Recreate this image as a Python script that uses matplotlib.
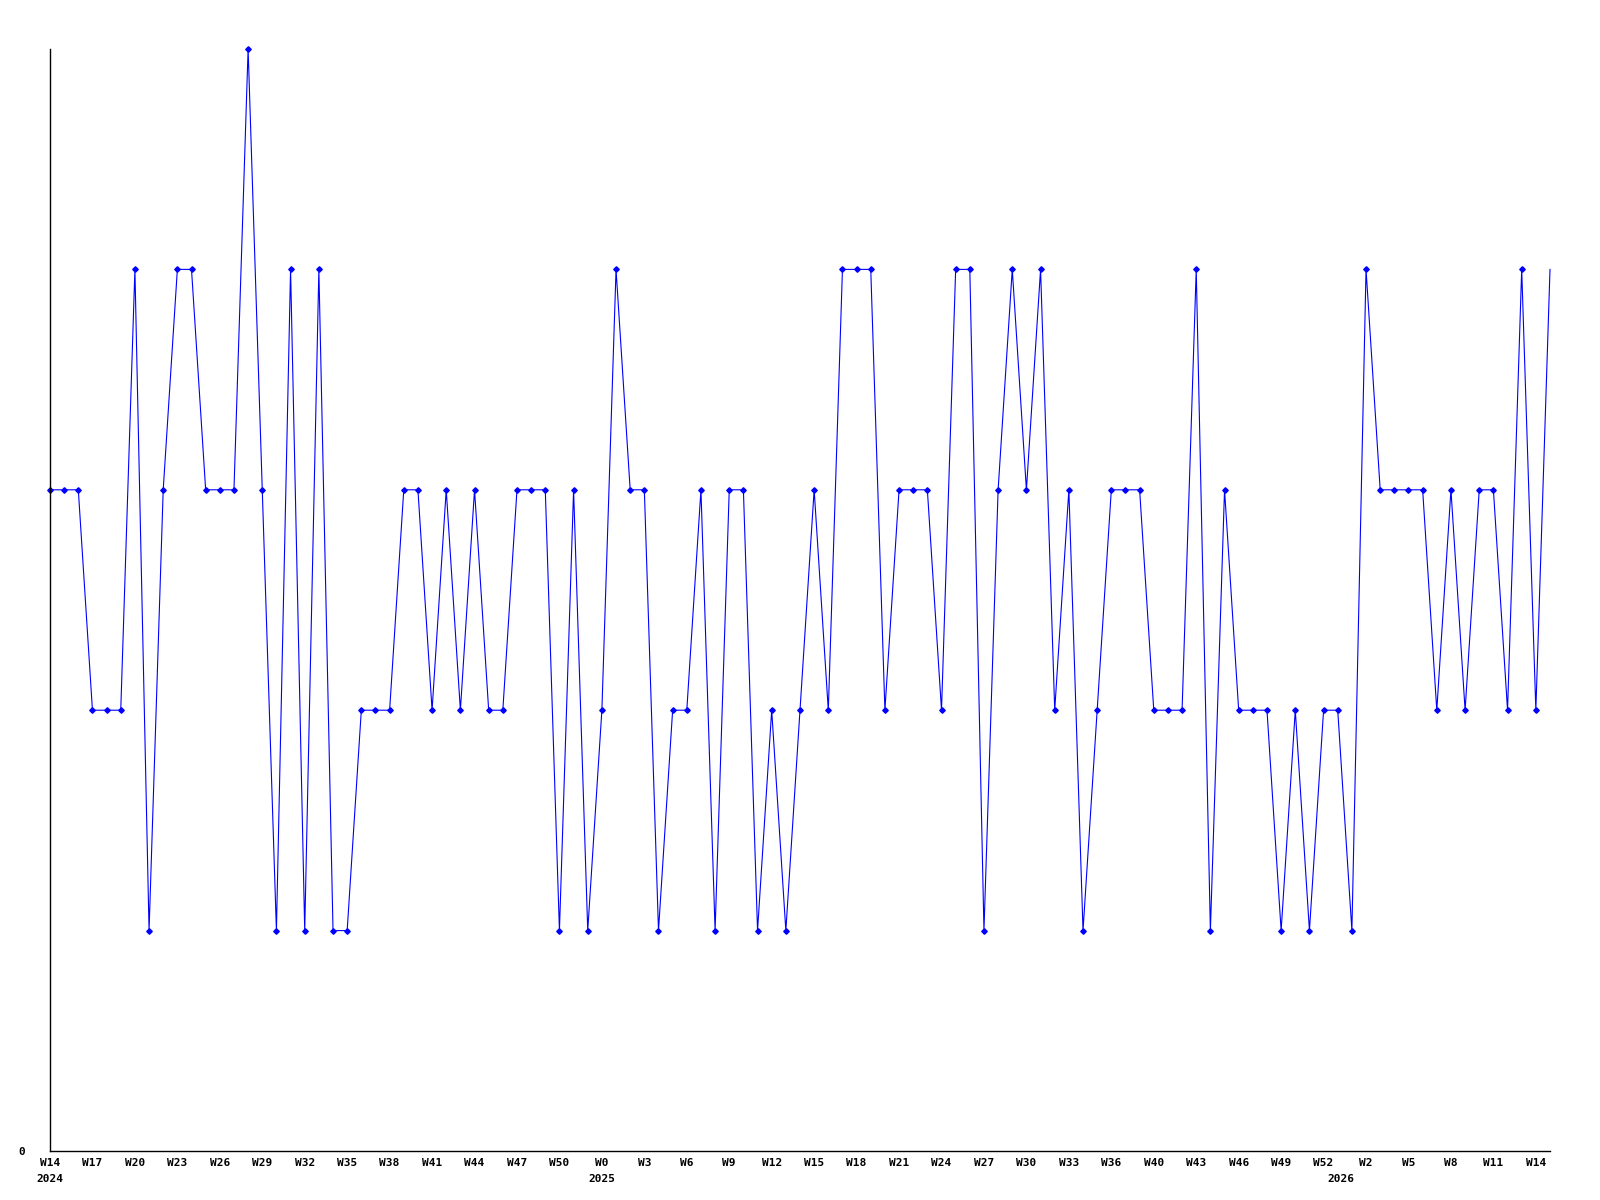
import matplotlib
matplotlib.use("Agg")
import matplotlib.pyplot as plt
import numpy as np

# weekly values, W14 2024 .. W15 2026
values = [3, 3, 3, 2, 2, 2, 4, 1, 3, 4, 4, 3, 3, 3, 5, 3, 1, 4, 1, 4,
          1, 1, 2, 2, 2, 3, 3, 2, 3, 2, 3, 2, 2, 3, 3, 3, 1, 3, 1, 2,
          4, 3, 3, 1, 2, 2, 3, 1, 3, 3, 1, 2, 1, 2, 3, 2, 4, 4, 4, 2,
          3, 3, 3, 2, 4, 4, 1, 3, 4, 3, 4, 2, 3, 1, 2, 3, 3, 3, 2, 2,
          2, 4, 1, 3, 2, 2, 2, 1, 2, 1, 2, 2, 1, 4, 3, 3, 3, 3, 2, 3,
          2, 3, 3, 2, 4, 2, 4]

week_labels = ["W14", "W17", "W20", "W23", "W26", "W29", "W32", "W35", "W38",
               "W41", "W44", "W47", "W50", "W0", "W3", "W6", "W9", "W12",
               "W15", "W18", "W21", "W24", "W27", "W30", "W33", "W36", "W40",
               "W43", "W46", "W49", "W52", "W2", "W5", "W8", "W11", "W14"]
tick_step = 3

year_labels = ["2024", "2025", "2026"]
year_pos = [0, 39, 91.2]

fig = plt.figure(figsize=(16, 12), dpi=100)
ax = fig.add_axes([50 / 1600, 1 - 1151 / 1200, 1500 / 1600, (1151 - 49) / 1200])

x = np.arange(len(values))
ax.plot(x, values, color="#0000ff", linewidth=0.8, marker="D", markersize=2.8,
        markevery=list(range(len(values) - 1)), clip_on=False)

ax.set_xlim(0, len(values) - 1)
ax.set_ylim(0, 5)

for s in ["top", "right"]:
    ax.spines[s].set_visible(False)
for s in ["left", "bottom"]:
    ax.spines[s].set_linewidth(1.0)
    ax.spines[s].set_color("black")

font = dict(family="DejaVu Sans Mono", weight="bold", size=8)

tick_pos = list(range(0, len(week_labels) * tick_step, tick_step))
ax.set_xticks(tick_pos)
ax.set_xticklabels(week_labels, **font)
ax.set_yticks([0])
ax.set_yticklabels(["0"], **font)
ax.tick_params(axis="x", length=0, pad=5)
ax.tick_params(axis="y", length=0, pad=18)

for lab, p in zip(year_labels, year_pos):
    ax.annotate(lab, xy=(p, 0), xycoords=("data", "axes fraction"),
                xytext=(0, -16.5), textcoords="offset points",
                ha="center", va="top", **font)

fig.savefig("out.png", dpi=100)
